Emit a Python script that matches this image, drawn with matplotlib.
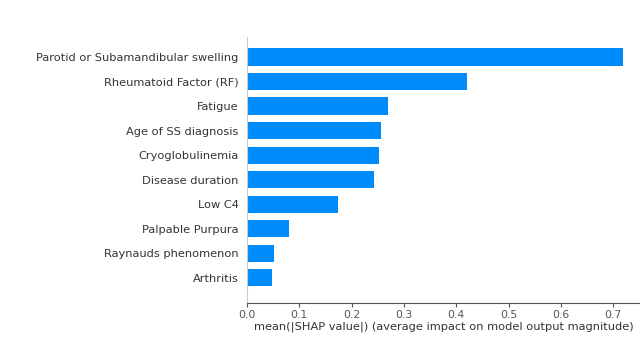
import matplotlib
matplotlib.use("Agg")
from matplotlib import pyplot as plt

features = ["Parotid or Subamandibular swelling", "Rheumatoid Factor (RF)", "Fatigue",
            "Age of SS diagnosis", "Cryoglobulinemia", "Disease duration", "Low C4",
            "Palpable Purpura", "Raynauds phenomenon", "Arthritis"]
shap_means = [0.718, 0.420, 0.270, 0.256, 0.252, 0.243, 0.173, 0.080, 0.052, 0.048]
xticks = [0.0, 0.1, 0.2, 0.3, 0.4, 0.5, 0.6, 0.7]

fig = plt.figure(figsize=(6.4, 3.6), dpi=100)
ax = fig.add_axes([0.386, 0.158, 0.614, 0.739])

ypos = list(range(len(features)))[::-1]
ax.barh(ypos, shap_means, height=0.7, color="#008bfb", align="center")

ax.set_yticks(ypos)
ax.set_yticklabels(features, fontsize=8.2, color="#333333")
ax.set_xticks(xticks)
ax.set_xticklabels([f"{t:.1f}" for t in xticks], fontsize=7.8, color="#555555")
ax.set_xlim(0, 0.751)
ax.set_ylim(-1.03, 9.81)

ax.spines["right"].set_visible(False)
ax.spines["top"].set_visible(False)
ax.spines["left"].set_color("#cccccc")
ax.spines["bottom"].set_color("#555555")
ax.tick_params(axis="y", length=0, pad=6)
ax.tick_params(axis="x", length=3, color="#555555", pad=2)
ax.set_xlabel("mean(|SHAP value|) (average impact on model output magnitude)",
              fontsize=8.2, color="#333333", labelpad=1)

plt.savefig("out.png", dpi=100)
